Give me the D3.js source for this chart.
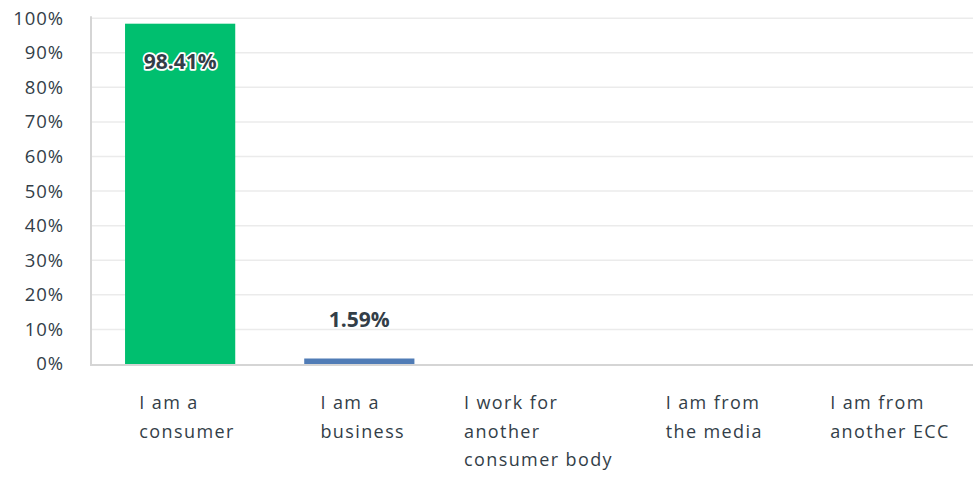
<!DOCTYPE html>
<html><head><meta charset="utf-8">
<script src="https://cdn.jsdelivr.net/npm/d3@7"></script>
<style>
body{margin:0;background:#fff;}
text{font-family:"Open Sans",Roboto,sans-serif;}
</style></head>
<body><svg id="chart" width="973" height="477"></svg>
<script>
const categories = [
  ["I am a","consumer"],
  ["I am a","business"],
  ["I work for","another","consumer body"],
  ["I am from","the media"],
  ["I am from","another ECC"]
];
const values = [98.41, 1.59, 0, 0, 0];
const valueLabels = ["98.41%", "1.59%", "", "", ""];
const barColors = ["#00bf6f", "#507cb6", "#507cb6", "#507cb6", "#507cb6"];
const yTicks = [0,10,20,30,40,50,60,70,80,90,100];

(function(){
const svg = d3.select("#chart");
const mLeft = 91, mRight = 986, mTop = 18.2, mBottom = 364;
const x = d3.scaleBand().domain(d3.range(categories.length)).range([mLeft, mRight])
  .paddingInner(0.385).paddingOuter(0.19);
const xl = d3.scalePoint().domain(d3.range(categories.length)).range([mLeft + 96, 973 - 83]);
const y = d3.scaleLinear().domain([0,100]).range([mBottom, mTop]);

// gridlines
svg.append("g").selectAll("line").data(yTicks.filter(d=>d>0)).join("line")
  .attr("x1", mLeft).attr("x2", 973)
  .attr("y1", d=>y(d)).attr("y2", d=>y(d))
  .attr("stroke", "#ebebeb").attr("stroke-width", 1.5);

// y axis
const yAxis = svg.append("g").attr("transform", `translate(${mLeft},0)`)
  .call(d3.axisLeft(y).tickValues(yTicks).tickFormat(d=>d+"%").tickSize(0).tickPadding(27));
yAxis.select(".domain").attr("stroke", "#d5d5d5").attr("stroke-width", 2)
  .attr("d", `M0,${mTop-2}V${mBottom}`);
yAxis.selectAll("text").attr("font-size", 18.5).attr("fill", "#333e48")
  .attr("font-family", "Open Sans").attr("letter-spacing", 0.9);

// bars
svg.append("g").selectAll("rect").data(values).join("rect")
  .attr("x", (d,i)=>x(i)).attr("width", x.bandwidth())
  .attr("y", d=>y(d)).attr("height", d=>mBottom - y(d))
  .attr("fill", (d,i)=>barColors[i]);

// baseline
svg.append("line").attr("x1", mLeft-1).attr("x2", 973).attr("y1", mBottom+1).attr("y2", mBottom+1)
  .attr("stroke", "#d5d5d5").attr("stroke-width", 2);

// value labels
svg.append("g").selectAll("text").data(values).join("text")
  .attr("x", (d,i)=>x(i)+x.bandwidth()/2)
  .attr("y", (d,i)=> d > 50 ? y(d)+45 : y(d)-32)
  .attr("text-anchor", "middle")
  .attr("font-size", 21).attr("font-weight", 700)
  .attr("fill", "#333e48")
  .attr("stroke", (d)=> d>50 ? "#fff" : "none").attr("stroke-width", 3.5)
  .attr("stroke-linejoin", "round")
  .attr("paint-order", "stroke")
  .text((d,i)=>valueLabels[i]);

// category labels
const cg = svg.append("g");
categories.forEach((lines, i) => {
  const cx = xl(i);
  const t = cg.append("text").attr("font-size", 18).attr("fill", "#333e48")
    .attr("letter-spacing", 1.4);
  lines.forEach((ln, j) => {
    t.append("tspan").attr("y", 409 + j*28.5).text(ln);
  });
  let maxW = 0;
  t.selectAll("tspan").each(function(){ maxW = Math.max(maxW, this.getComputedTextLength()); });
  t.selectAll("tspan").attr("x", cx - maxW/2);
});
})();
</script></body></html>
